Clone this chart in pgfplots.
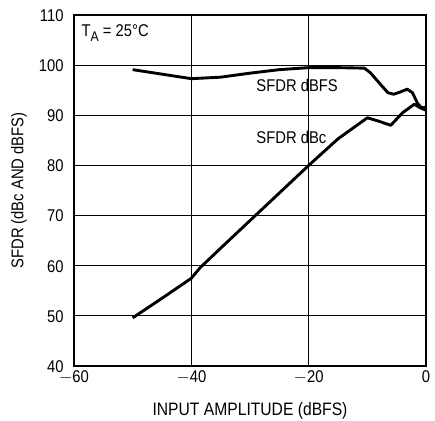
\documentclass[border=0pt]{standalone}
\usepackage{pgfplots}
\pgfplotsset{compat=1.18}
\usepackage{fontspec}
\setmainfont{Liberation Sans}[FakeStretch=0.87]
\begin{document}
\begin{tikzpicture}
\begin{axis}[
  scale only axis,
  width=352pt, height=351pt,
  xmin=-60, xmax=0, ymin=40, ymax=110,
  xtick={-60,-40,-20,0},
  xticklabels={$-$60,$-$40,$-$20,0},
  ytick={40,50,...,110},
  major tick length=0pt,
  grid=major,
  major grid style={black, line width=0.9pt},
  axis line style={line width=1.4pt},
  tick label style={font=\fontsize{17}{19}\selectfont, inner sep=0.5pt},
  /pgf/number format/assume math mode=true,
  xlabel={INPUT AMPLITUDE (dBFS)},
  ylabel={SFDR (dBc AND dBFS)},
  xticklabel style={anchor=north, yshift=-4.3pt},
  yticklabel style={anchor=east, xshift=-9.8pt, yshift=-0.5pt},
  xlabel style={font=\fontsize{18}{20}\selectfont, at={(axis description cs:0.5,0)}, anchor=center, yshift=-45pt},
  ylabel style={font=\fontsize{17}{19}\selectfont, at={(axis description cs:0,0.5)}, anchor=center, yshift=55pt},
  clip=false,
]
\coordinate (ll) at (rel axis cs:0,0);
\coordinate (ur) at (rel axis cs:1,1);
\addplot[black, line width=2.9pt, line join=round] coordinates {
 (-50,99.1) (-45,98.2) (-40,97.3) (-35,97.6) (-30,98.4) (-25,99.1) (-20,99.5)
 (-15,99.5) (-10.5,99.4) (-9.5,98.5) (-8,96.5) (-6.5,94.5) (-5.5,94.2) (-4.5,94.6) (-3.2,95.2)
 (-2.3,94.5) (-1.5,92.5) (-0.8,91.5) (0,91.6)
};
\addplot[black, line width=2.9pt, line join=round] coordinates {
 (-50,49.6) (-45,53.5) (-40,57.5) (-38.5,59.6) (-35,63.5) (-30,69) (-25,74.5)
 (-20,80) (-15,85.3) (-10,89.5) (-8,88.8) (-6,88) (-4,90.5) (-2,92.2) (-1,91.5) (0,91)
};
\node[anchor=west, font=\fontsize{17}{19}\selectfont] at (axis cs:-59.3,106.4) {T\raisebox{-0.45ex}{\fontsize{14}{16}\selectfont A} = 25°C};
\node[anchor=west, font=\fontsize{17}{19}\selectfont] at (axis cs:-29.5,96) {SFDR dBFS};
\node[anchor=west, font=\fontsize{17}{19}\selectfont] at (axis cs:-29.5,85.5) {SFDR dBc};
\end{axis}
\pgfresetboundingbox
\path ([shift={(-74pt,-55pt)}]ll) rectangle ([shift={(9pt,15pt)}]ur);
\end{tikzpicture}
\end{document}
